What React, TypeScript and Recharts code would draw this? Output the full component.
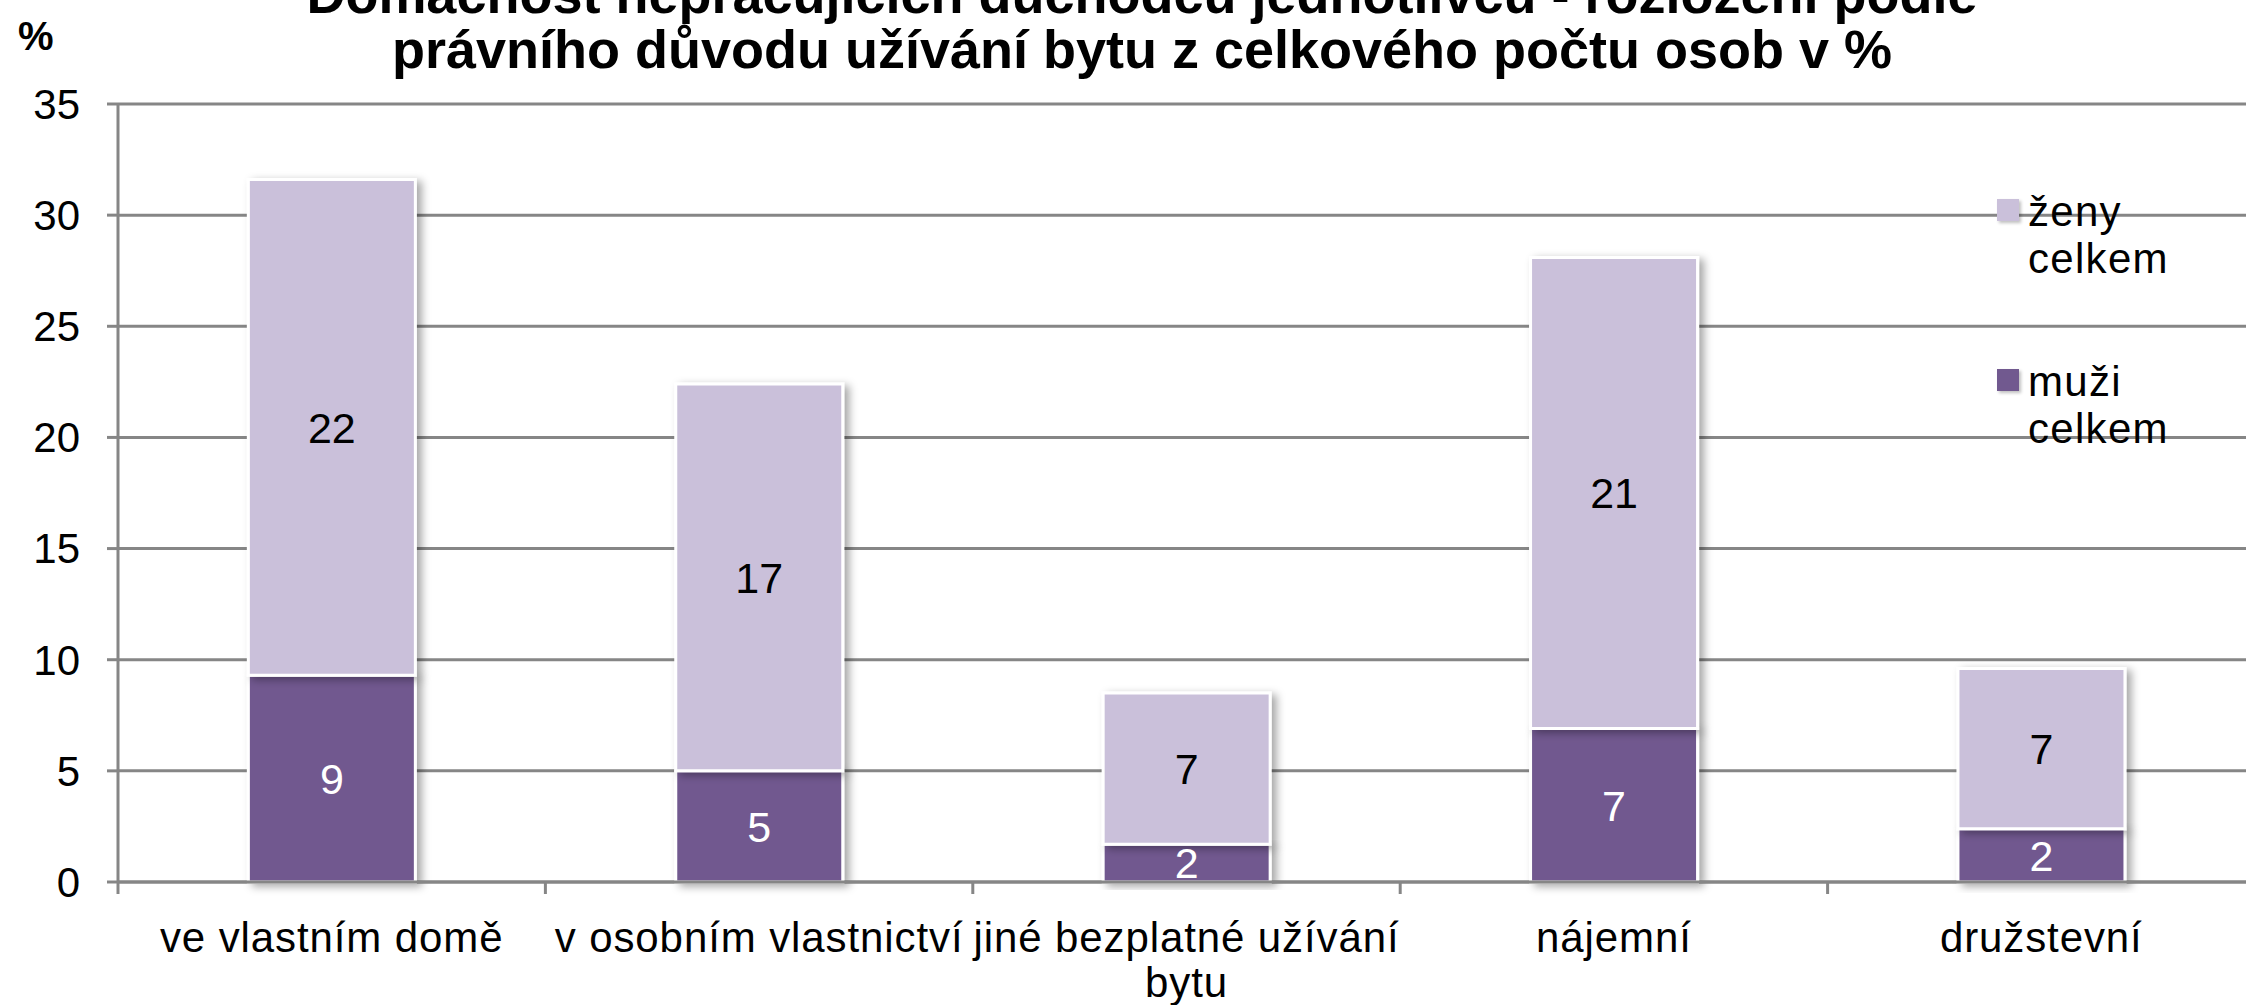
import React from "react";
import {
  BarChart,
  Bar,
  XAxis,
  YAxis,
  CartesianGrid,
  Legend,
  LabelList,
  Rectangle,
} from "recharts";

// kategorie a hodnoty (v %)
const categories = [
  "ve vlastním domě",
  "v osobním vlastnictví",
  "jiné bezplatné užívání bytu",
  "nájemní",
  "družstevní",
];
const muzi = [9.3, 5.0, 1.7, 6.9, 2.4];
const zeny = [22.3, 17.4, 6.8, 21.2, 7.2];
const yTicks = [0, 5, 10, 15, 20, 25, 30, 35];
const titleLines = [
  "Domácnost nepracujících důchodců jednotlivců - rozložení podle",
  "právního důvodu užívání bytu z celkového počtu osob v %",
];
const unitLabel = "%";
const names = { muzi: "muži celkem", zeny: "ženy celkem" };

const COLORS = {
  muzi: "#71598f",
  zeny: "#cac0da",
  grid: "#868686",
};

const FONT = "'Liberation Sans', Arial, sans-serif";
const W = 2246;
const H = 1005;
const CHART_W = 2255;
const Y_AXIS_W = 118;
const X_AXIS_H = 123;
const TOP = 104;
const BAND = (CHART_W - Y_AXIS_W) / categories.length;

const data = categories.map((name, i) => ({ name, muzi: muzi[i], zeny: zeny[i] }));

// zalomení dlouhých popisků
function wrap(text: string, max: number): string[] {
  const lines: string[] = [];
  let cur = "";
  for (const w of text.split(" ")) {
    const next = cur ? cur + " " + w : w;
    if (next.length > max && cur) {
      lines.push(cur);
      cur = w;
    } else cur = next;
  }
  if (cur) lines.push(cur);
  return lines;
}

function CategoryTick(props: any) {
  const { x, y, payload } = props;
  const lines = wrap(String(payload.value), 22);
  return (
    <g>
      <line
        x1={x - BAND / 2}
        x2={x - BAND / 2}
        y1={y}
        y2={y + 12}
        stroke={COLORS.grid}
        strokeWidth={3}
      />
      <text
        x={x}
        y={y + 70}
        textAnchor="middle"
        fontSize={42}
        fontFamily={FONT}
        fill="#000"
        letterSpacing={0.9}
      >
        {lines.map((l, i) => (
          <tspan key={i} x={x} dy={i === 0 ? 0 : 45}>
            {l}
          </tspan>
        ))}
      </text>
    </g>
  );
}

function LegendContent(props: any) {
  const items = [...(props.payload ?? [])].reverse();
  return (
    <div style={{ fontFamily: FONT, fontSize: 42, lineHeight: "47px", color: "#000", letterSpacing: 1.3 }}>
      {items.map((it: any, i: number) => (
        <div key={i} style={{ position: "relative", paddingLeft: 31, height: i === 0 ? 170 : "auto" }}>
          <span
            style={{
              position: "absolute",
              left: 0,
              top: 11,
              width: 22,
              height: 22,
              background: it.color,
              boxShadow: "2px 2px 3px rgba(0,0,0,0.25)",
            }}
          />
          {String(it.value)
            .split(" ")
            .map((w, j) => (
              <div key={j}>{w}</div>
            ))}
        </div>
      ))}
    </div>
  );
}

const ShadowBar = (props: any) => <Rectangle {...props} filter="url(#barShadow)" />;

const round = (v: any) => Math.round(Number(v));

export default function App() {
  return (
    <div style={{ position: "absolute", left: 0, top: 0, width: W, height: H, overflow: "hidden", background: "#fff" }}>
      <svg width={0} height={0} style={{ position: "absolute" }}>
        <defs>
          <filter id="barShadow" x="-10%" y="-10%" width="130%" height="130%">
            <feDropShadow dx="5" dy="3" stdDeviation="4" floodColor="#000" floodOpacity="0.35" />
          </filter>
        </defs>
      </svg>
      <BarChart
        width={CHART_W}
        height={H}
        data={data}
        margin={{ top: TOP, right: 0, bottom: 0, left: 0 }}
        barCategoryGap="30.5%"
      >
        <CartesianGrid vertical={false} stroke={COLORS.grid} strokeWidth={3} />
        <XAxis
          dataKey="name"
          height={X_AXIS_H}
          interval={0}
          tickLine={false}
          tickSize={0}
          tickMargin={0}
          axisLine={{ stroke: COLORS.grid, strokeWidth: 3 }}
          tick={<CategoryTick />}
        />
        <YAxis
          width={Y_AXIS_W}
          domain={[0, 35]}
          ticks={yTicks}
          interval={0}
          tickSize={11}
          tickMargin={27}
          axisLine={{ stroke: COLORS.grid, strokeWidth: 3 }}
          tickLine={{ stroke: COLORS.grid, strokeWidth: 3 }}
          tick={{ fontSize: 42, fill: "#000", fontFamily: FONT }}
        />
        <Legend
          layout="vertical"
          align="center"
          verticalAlign="middle"
          wrapperStyle={{ position: "absolute", left: 1997, top: 188, width: 240 }}
          content={<LegendContent />}
        />
        <Bar
          dataKey="muzi"
          name={names.muzi}
          stackId="a"
          fill={COLORS.muzi}
          stroke="#fff"
          strokeWidth={3}
          shape={ShadowBar}
          isAnimationActive={false}
        >
          <LabelList dataKey="muzi" position="center" formatter={round} fill="#fff" fontSize={43} fontFamily={FONT} />
        </Bar>
        <Bar
          dataKey="zeny"
          name={names.zeny}
          stackId="a"
          fill={COLORS.zeny}
          stroke="#fff"
          strokeWidth={3}
          shape={ShadowBar}
          isAnimationActive={false}
        >
          <LabelList dataKey="zeny" position="center" formatter={round} fill="#000" fontSize={43} fontFamily={FONT} />
        </Bar>
      </BarChart>
      <svg width={W} height={H} style={{ position: "absolute", left: 0, top: 0, pointerEvents: "none" }}>
        <text x={18} y={50} fontSize={40} fontWeight="bold" fontFamily={FONT} fill="#000">
          {unitLabel}
        </text>
        {titleLines.map((t, i) => (
          <text
            key={i}
            x={1142}
            y={13 + i * 55}
            textAnchor="middle"
            fontSize={54}
            fontWeight="bold"
            fontFamily={FONT}
            fill="#000"
          >
            {t}
          </text>
        ))}
      </svg>
    </div>
  );
}
